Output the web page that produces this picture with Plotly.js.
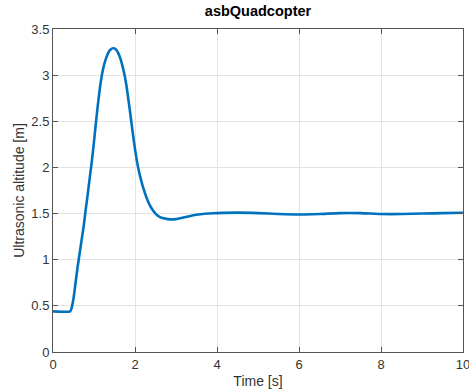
<!DOCTYPE html>
<html>
<head>
<meta charset="utf-8">
<script src="https://cdn.plot.ly/plotly-3.0.1.min.js"></script>
<style>html,body{margin:0;padding:0;background:#fff;}#chart{width:469px;height:392px;}</style>
</head>
<body>
<div id="chart"></div>
<script>
const chartTitle = 'asbQuadcopter';
const xLabel = 'Time [s]';
const yLabel = 'Ultrasonic altitude [m]';
const timeS = [0, 0.42, 0.45, 0.5, 0.55, 0.6, 0.65, 0.7, 0.75, 0.8, 0.85, 0.9, 0.95, 1.0, 1.05, 1.1, 1.15, 1.2, 1.25, 1.3, 1.35, 1.4, 1.45, 1.5, 1.55, 1.6, 1.65, 1.7, 1.75, 1.8, 1.85, 1.9, 1.95, 2.0, 2.05, 2.1, 2.15, 2.2, 2.3, 2.4, 2.5, 2.6, 2.7, 2.8, 2.9, 3.0, 3.2, 3.4, 3.6, 3.8, 4.0, 4.5, 5.0, 5.5, 6.0, 6.5, 7.0, 7.5, 8.0, 8.5, 9.0, 9.5, 10];
const altitudeM = [0.44, 0.44, 0.47, 0.58, 0.75, 0.92, 1.07, 1.22, 1.37, 1.55, 1.72, 1.9, 2.08, 2.28, 2.5, 2.7, 2.88, 3.02, 3.12, 3.19, 3.245, 3.275, 3.29, 3.29, 3.27, 3.23, 3.17, 3.09, 2.99, 2.86, 2.7, 2.53, 2.36, 2.2, 2.06, 1.95, 1.86, 1.78, 1.65, 1.56, 1.5, 1.465, 1.448, 1.44, 1.437, 1.44, 1.46, 1.48, 1.492, 1.5, 1.505, 1.51, 1.505, 1.495, 1.49, 1.495, 1.505, 1.505, 1.495, 1.495, 1.5, 1.505, 1.509];
const xTicks = [0, 2, 4, 6, 8, 10];
const yTicks = [0, 0.5, 1, 1.5, 2, 2.5, 3, 3.5];

const axisCommon = {
  showgrid: true, gridcolor: '#e3e3e3', gridwidth: 1,
  showline: true, linecolor: '#555', linewidth: 1,
  mirror: 'ticks', ticks: 'inside', ticklen: 5, tickcolor: '#555',
  zeroline: false, ticklabeloverflow: 'allow',
  tickfont: {family: 'Liberation Sans, Arial, sans-serif', size: 13, color: '#333'}
};

Plotly.newPlot('chart', [{
  x: timeS, y: altitudeM, type: 'scatter', mode: 'lines',
  line: {color: '#0072BD', width: 2.6, shape: 'spline', smoothing: 0.5}
}], {
  width: 469, height: 392,
  margin: {l: 53, r: 6, t: 29, b: 40},
  paper_bgcolor: '#fff', plot_bgcolor: '#fff',
  showlegend: false,
  title: {text: '<b>' + chartTitle + '</b>', xref: 'paper', x: 0.5, xanchor: 'center', y: 0.985, yanchor: 'top',
    font: {family: 'Liberation Sans, Arial, sans-serif', size: 14.5, color: '#000'}},
  xaxis: Object.assign({}, axisCommon, {
    range: [0, 10], tickvals: xTicks, ticktext: xTicks.map(String),
    title: {text: xLabel, standoff: 5, font: {family: 'Liberation Sans, Arial, sans-serif', size: 14, color: '#333'}}
  }),
  yaxis: Object.assign({}, axisCommon, {
    range: [0, 3.5], tickvals: yTicks, ticktext: yTicks.map(String),
    title: {text: yLabel, standoff: 3, font: {family: 'Liberation Sans, Arial, sans-serif', size: 14, color: '#333'}}
  })
}, {staticPlot: true, displayModeBar: false});
</script>
</body>
</html>
